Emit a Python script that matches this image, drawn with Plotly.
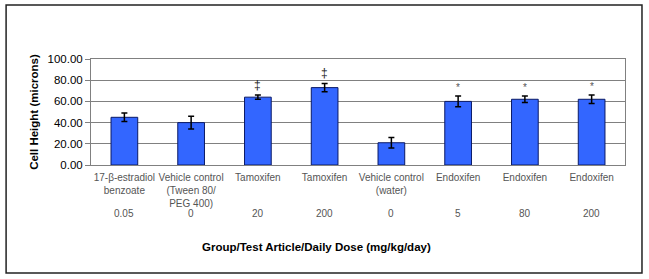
import plotly.graph_objects as go

groups = ["17-β-estradiol<br>benzoate", "Vehicle control<br>(Tween 80/<br>PEG 400)", "Tamoxifen", "Tamoxifen",
          "Vehicle control<br>(water)", "Endoxifen", "Endoxifen", "Endoxifen"]
doses = ["0.05", "0", "20", "200", "0", "5", "80", "200"]
cell_height = [45.0, 40.0, 64.0, 73.0, 21.0, 60.0, 62.0, 62.0]
error = [4.0, 6.0, 2.0, 4.0, 5.0, 5.0, 3.0, 4.0]
marks = ["", "", "‡", "‡", "", "*", "*", "*"]

x = list(range(len(groups)))

fig = go.Figure()
fig.add_trace(go.Bar(
    x=x, y=cell_height,
    marker=dict(color="#3366FF", line=dict(color="#0B1A66", width=1)),
    error_y=dict(type="data", array=error, color="black", thickness=1.5, width=3),
    width=0.4, hoverinfo="skip",
))

for i, (v, e, m) in enumerate(zip(cell_height, error, marks)):
    if m:
        fig.add_annotation(x=i, y=v + e, text=m, showarrow=False, yanchor="bottom",
                           yshift=1, font=dict(family="Arial", size=12 if m == "‡" else 10,
                                               color="#222222" if m == "‡" else "#555555"))

for i, d in enumerate(doses):
    fig.add_annotation(x=i, y=-0.453, xref="x", yref="paper", text=d, showarrow=False,
                       xanchor="center", yanchor="middle",
                       font=dict(family="Arial", size=10, color="#555555"))

fig.add_annotation(x=0.423, y=-0.774, xref="paper", yref="paper", showarrow=False,
                   xanchor="center", yanchor="middle",
                   text="<b>Group/Test Article/Daily Dose (mg/kg/day)</b>",
                   font=dict(family="Arial", size=11.5, color="black"))
fig.add_annotation(x=-0.107, y=0.5, xref="paper", yref="paper", showarrow=False, textangle=-90,
                   xanchor="center", yanchor="middle",
                   text="<b>Cell Height (microns)</b>",
                   font=dict(family="Arial", size=11.5, color="black"))

fig.add_shape(type="rect", xref="paper", yref="paper", x0=-0.159, x1=1.0318, y0=-1.019, y1=1.509,
              line=dict(color="#222222", width=1.5), layer="below")

fig.update_layout(
    width=649, height=279,
    margin=dict(l=91, r=24, t=59, b=114),
    paper_bgcolor="white", plot_bgcolor="white",
    showlegend=False,
    font=dict(family="Arial", color="black"),
    xaxis=dict(
        tickvals=x, ticktext=groups, range=[-0.5, 7.5], automargin=False,
        tickfont=dict(family="Arial", size=10, color="#555555"), ticklabelstandoff=3,
        showgrid=False, showline=True, linecolor="#808080", mirror=True,
        ticks="", zeroline=False, fixedrange=True,
    ),
    yaxis=dict(
        range=[0, 100], tickvals=[0, 20, 40, 60, 80, 100], tickformat=".2f", automargin=False,
        tickfont=dict(family="Arial", size=11.5, color="black"),
        showgrid=True, gridcolor="#808080", gridwidth=1,
        showline=True, linecolor="#808080", mirror=True,
        ticks="outside", ticklen=5, tickcolor="#808080", zeroline=False, fixedrange=True,
    ),
)

fig.write_html("out.html", config={"displayModeBar": False, "staticPlot": True},
               post_script="document.body.style.margin='0';document.body.style.overflow='hidden';")
